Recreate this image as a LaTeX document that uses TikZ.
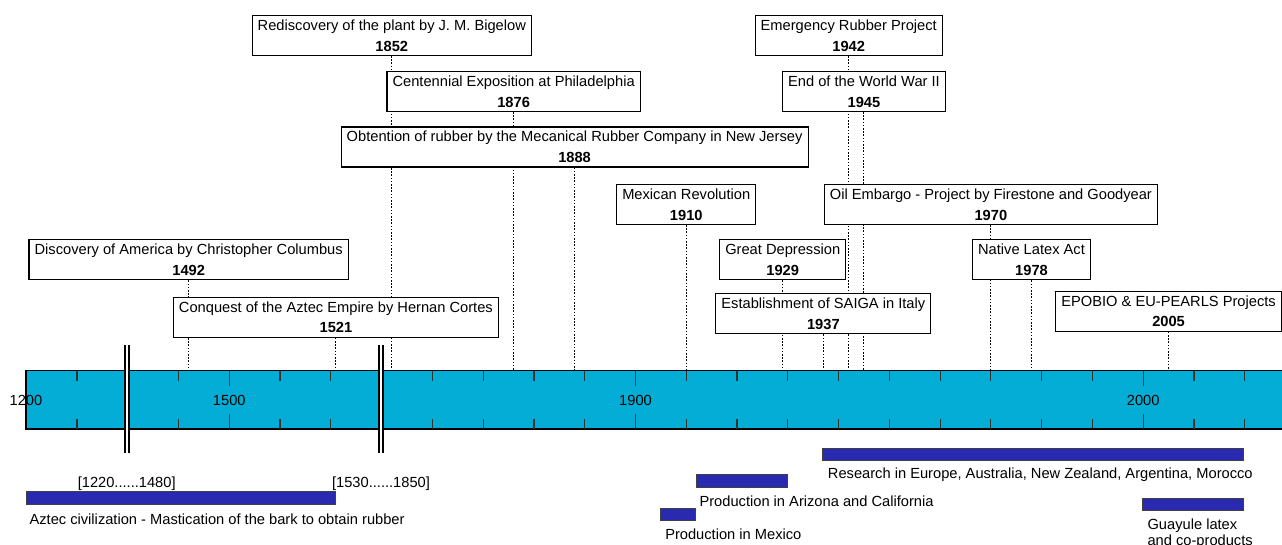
\documentclass[tikz,border=0pt]{standalone}
\usepackage{fontspec}
\setmainfont{Liberation Sans}
\usetikzlibrary{backgrounds}
\definecolor{axisblue}{RGB}{4,173,214}
\definecolor{periodblue}{RGB}{42,42,176}
\newcommand{\xold}[1]{229.3+5.077*(#1-1500)}
\newcommand{\xnew}[1]{635.5+5.077*(#1-1900)}

\begin{document}
\begin{tikzpicture}[x = 0.75pt, y = -0.75pt,
    font = \fontsize{11}{13}\selectfont,
    event/.style = {draw, fill = white, line width = 0.8pt, anchor = north, align = center,
        minimum height = 30pt, inner xsep = 4.2pt, inner ysep = 0pt,
        font = \fontsize{11}{15.5}\selectfont},
    guide/.style = {line width = 0.75pt, dash pattern = on 1.2pt off 1.2pt},
    period/.style = {draw = black!75, fill = periodblue, line width = 0.6pt},
    caption/.style = {anchor = base west, inner sep = 0pt}]
    \useasboundingbox (0,0) rectangle (1282,545);

    % time axis
    \fill[axisblue] (26,370.7) rectangle (1290,429);
    \draw[line width = 0.9pt] (1290,370.7) -- (26,370.7) -- (26,429) -- (1290,429);
    \coordinate (bartop) at (0,370.7);
    \foreach \k in {1,3,5,6,8,9,10,11,13,14,...,21,23,24}
        \draw[line width = 0.9pt, black!80] ({77+50.77*(\k-1)},370.7) -- ++(0,10)
            ({77+50.77*(\k-1)},429) -- ++(0,-10);
    \foreach \k in {4,12,22}
        \draw[line width = 0.9pt, black!80] ({77+50.77*(\k-1)},370.7) -- ++(0,15)
            ({77+50.77*(\k-1)},429) -- ++(0,-15);
    \node[anchor = base] (y1200) at (26,405.3) {1200};
    \node[anchor = base] (y1500) at ({\xold{1500}},405.3) {1500};
    \node[anchor = base] (y1900) at ({\xnew{1900}},405.3) {1900};
    \node[anchor = base] (y2000) at ({\xnew{2000}},405.3) {2000};

    % axis breaks
    \foreach \b in {124.7,378.7}{
        \fill[white] (\b,345) rectangle (\b+4,453);
        \draw[line width = 1.5pt] (\b,345) -- (\b,453) (\b+4,345) -- (\b+4,453);
    }

    % events
    \node[event] (e1852) at ({\xnew{1852}},15) {Rediscovery of the plant by J. M. Bigelow\\\textbf{1852}};
    \node[event] (e1942) at ({\xnew{1942}},15) {Emergency Rubber Project\\\textbf{1942}};
    \node[event] (e1876) at ({\xnew{1876}},71) {Centennial Exposition at Philadelphia\\\textbf{1876}};
    \node[event] (e1945) at ({\xnew{1945}},71) {End of the World War II\\\textbf{1945}};
    \node[event] (e1888) at ({\xnew{1888}},126.5) {Obtention of rubber by the Mecanical Rubber Company in New Jersey\\\textbf{1888}};
    \node[event] (e1910) at ({\xnew{1910}},184) {Mexican Revolution\\\textbf{1910}};
    \node[event] (e1970) at ({\xnew{1970}},184) {Oil Embargo - Project by Firestone and Goodyear\\\textbf{1970}};
    \node[event] (e1492) at ({\xold{1492}},239.3) {Discovery of America by Christopher Columbus\\\textbf{1492}};
    \node[event] (e1929) at ({\xnew{1929}},239.3) {Great Depression\\\textbf{1929}};
    \node[event] (e1978) at ({\xnew{1978}},239.3) {Native Latex Act\\\textbf{1978}};
    \node[event] (e1521) at ({\xold{1521}},296.7) {Conquest of the Aztec Empire by Hernan Cortes\\\textbf{1521}};
    \node[event] (e1937) at ({\xnew{1937}},293.3) {Establishment of SAIGA in Italy\\\textbf{1937}};
    \node[event] (e2005) at ({\xnew{2005}},290.7) {EPOBIO \& EU-PEARLS Projects\\\textbf{2005}};

    \begin{scope}[on background layer]
        \foreach \e in {e1492,e1521,e1852,e1876,e1888,e1910,e1929,e1937,e1942,e1945,e1970,e1978,e2005}
            \draw[guide] (\e.south) -- (\e.south |- bartop);
    \end{scope}

    % periods
    \draw[period] (26,491.7) rectangle (335.7,504.3);
    \node[anchor = base] (r1) at (126.7,487) {[1220......1480]};
    \node[anchor = base] (r2) at (381,487) {[1530......1850]};
    \node[caption] (aztec) at (29.3,524.3) {Aztec civilization - Mastication of the bark to obtain rubber};
    \draw[period] (660.7,508.3) rectangle (695.7,520.3);
    \node[caption] (mexico) at (665,539.6) {Production in Mexico};
    \draw[period] (696,474.3) rectangle (787.7,487.3);
    \node[caption] (arizona) at (699.3,506.3) {Production in Arizona and California};
    \draw[period] (822.7,448.3) rectangle (1243.7,460.7);
    \node[caption] (research) at (827.7,478.6) {Research in Europe, Australia, New Zealand, Argentina, Morocco};
    \draw[period] (1142.7,498.3) rectangle (1243.7,510.7);
    \node[anchor = north west, inner sep = 0pt, align = left, font = \fontsize{11}{12}\selectfont] (guayule)
        at (1147.3,518.7) {Guayule latex\\and co-products};
\end{tikzpicture}
\end{document}
